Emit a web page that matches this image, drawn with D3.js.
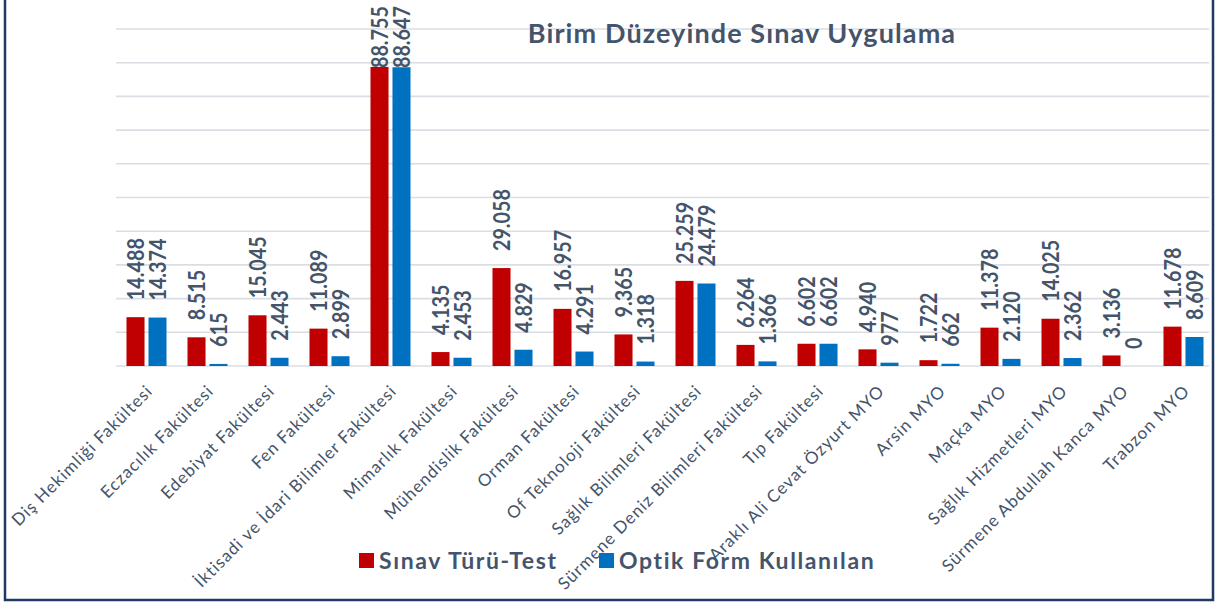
<!DOCTYPE html>
<html lang="tr">
<head>
    <meta charset="UTF-8">
    <title>Birim Düzeyinde Sınav Uygulama</title>
    <script src="https://d3js.org/d3.v7.min.js"></script>
    <style>
        html, body { margin: 0; padding: 0; background: #fff; }
        svg { display: block; font-family: 'Lato', 'Open Sans', sans-serif; }
    </style>
</head>
<body>
    <svg id="chart" width="1215" height="603"></svg>

    <script>
        // chart data
        const categories = [
            "Diş Hekimliği Fakültesi", "Eczacılık Fakültesi", "Edebiyat Fakültesi", "Fen Fakültesi",
            "İktisadi ve İdari Bilimler Fakültesi", "Mimarlık Fakültesi", "Mühendislik Fakültesi",
            "Orman Fakültesi", "Of Teknoloji Fakültesi", "Sağlık Bilimleri Fakültesi",
            "Sürmene Deniz Bilimleri Fakültesi", "Tıp Fakültesi", "Araklı Ali Cevat Özyurt MYO",
            "Arsin MYO", "Maçka MYO", "Sağlık Hizmetleri MYO", "Sürmene Abdullah Kanca MYO", "Trabzon MYO"
        ];
        const seriesNames = ["Sınav Türü-Test", "Optik Form Kullanılan"];
        const testValues = [14488, 8515, 15045, 11089, 88755, 4135, 29058, 16957, 9365, 25259, 6264, 6602, 4940, 1722, 11378, 14025, 3136, 11678];
        const optikValues = [14374, 615, 2443, 2899, 88647, 2453, 4829, 4291, 1318, 24479, 1366, 6602, 977, 662, 2120, 2362, 0, 8609];
        const yTicks = [0, 10000, 20000, 30000, 40000, 50000, 60000, 70000, 80000, 90000, 100000];

        const colors = ["#c00000", "#0070c0"];
        const textColor = "#44546a";

        const svg = d3.select("#chart");
        const tr = d3.formatLocale({ decimal: ",", thousands: ".", grouping: [3], currency: ["", ""] });
        const fmt = tr.format(",d");

        const x0 = d3.scaleBand().domain(categories).range([116, 1214]).paddingInner(0.344).paddingOuter(0.172);
        const x1 = d3.scaleBand().domain(seriesNames).range([0, x0.bandwidth()]).paddingInner(0.18);
        const y = d3.scaleLinear().domain([0, 100000]).range([366, 29]);

        // gridlines
        svg.append("g").selectAll("line")
            .data(yTicks)
            .enter().append("line")
            .attr("x1", 116).attr("x2", 1209)
            .attr("y1", d => y(d)).attr("y2", d => y(d))
            .attr("stroke", "#dadee4")
            .attr("stroke-width", 1.6);

        // title
        svg.append("text")
            .attr("x", 742).attr("y", 43)
            .attr("text-anchor", "middle")
            .attr("fill", textColor)
            .attr("font-size", 27)
            .attr("font-weight", 700)
            .attr("letter-spacing", 1.1)
            .text("Birim Düzeyinde Sınav Uygulama");

        const rows = categories.map((c, i) => ({ cat: c, vals: [testValues[i], optikValues[i]] }));

        const groups = svg.append("g").selectAll("g")
            .data(rows)
            .enter().append("g")
            .attr("transform", d => `translate(${x0(d.cat)},0)`);

        groups.selectAll("rect")
            .data(d => d.vals.map((v, j) => ({ s: seriesNames[j], v: v, j: j })))
            .enter().append("rect")
            .attr("x", d => x1(d.s))
            .attr("y", d => y(d.v))
            .attr("width", x1.bandwidth())
            .attr("height", d => y(0) - y(d.v))
            .attr("fill", d => colors[d.j]);

        // data labels, rotated
        const squeeze = 0.86;
        groups.selectAll("text")
            .data(d => d.vals.map((v, j) => ({ s: seriesNames[j], v: v, j: j })))
            .enter().append("text")
            .attr("fill", textColor)
            .attr("font-size", 23)
            .attr("font-weight", 700)
            .attr("dy", "0.36em")
            .text(d => fmt(d.v))
            .each(function (d) {
                const len = this.getComputedTextLength() * squeeze;
                let start = y(d.v) - 17;
                if (start - len < 6) start = 6 + len;
                const cx = x1(d.s) + x1.bandwidth() / 2;
                d3.select(this).attr("transform", `translate(${cx},${start}) rotate(-90) scale(${squeeze},1)`);
            });

        // category labels
        svg.append("g").selectAll("text")
            .data(categories)
            .enter().append("text")
            .attr("transform", d => `translate(${x0(d) + x0.bandwidth() / 2 + 3},388) rotate(-45)`)
            .attr("text-anchor", "end")
            .attr("dy", "0.35em")
            .attr("fill", textColor)
            .attr("font-size", 17)
            .attr("letter-spacing", 1)
            .text(d => d);

        // legend
        const legendX = [359, 599];
        const legend = svg.append("g").selectAll("g")
            .data(seriesNames)
            .enter().append("g")
            .attr("transform", (d, i) => `translate(${legendX[i]},553)`);
        legend.append("rect")
            .attr("width", 15).attr("height", 15)
            .attr("fill", (d, i) => colors[i]);
        legend.append("text")
            .attr("x", 20).attr("y", 16)
            .attr("fill", textColor)
            .attr("font-size", 23)
            .attr("font-weight", 700)
            .attr("letter-spacing", 1.6)
            .text(d => d);

        // outer frame
        svg.append("rect")
            .attr("x", 5).attr("y", -4)
            .attr("width", 1208).attr("height", 604)
            .attr("fill", "none")
            .attr("stroke", "#1f3864")
            .attr("stroke-width", 2.5);
    </script>
</body>
</html>
